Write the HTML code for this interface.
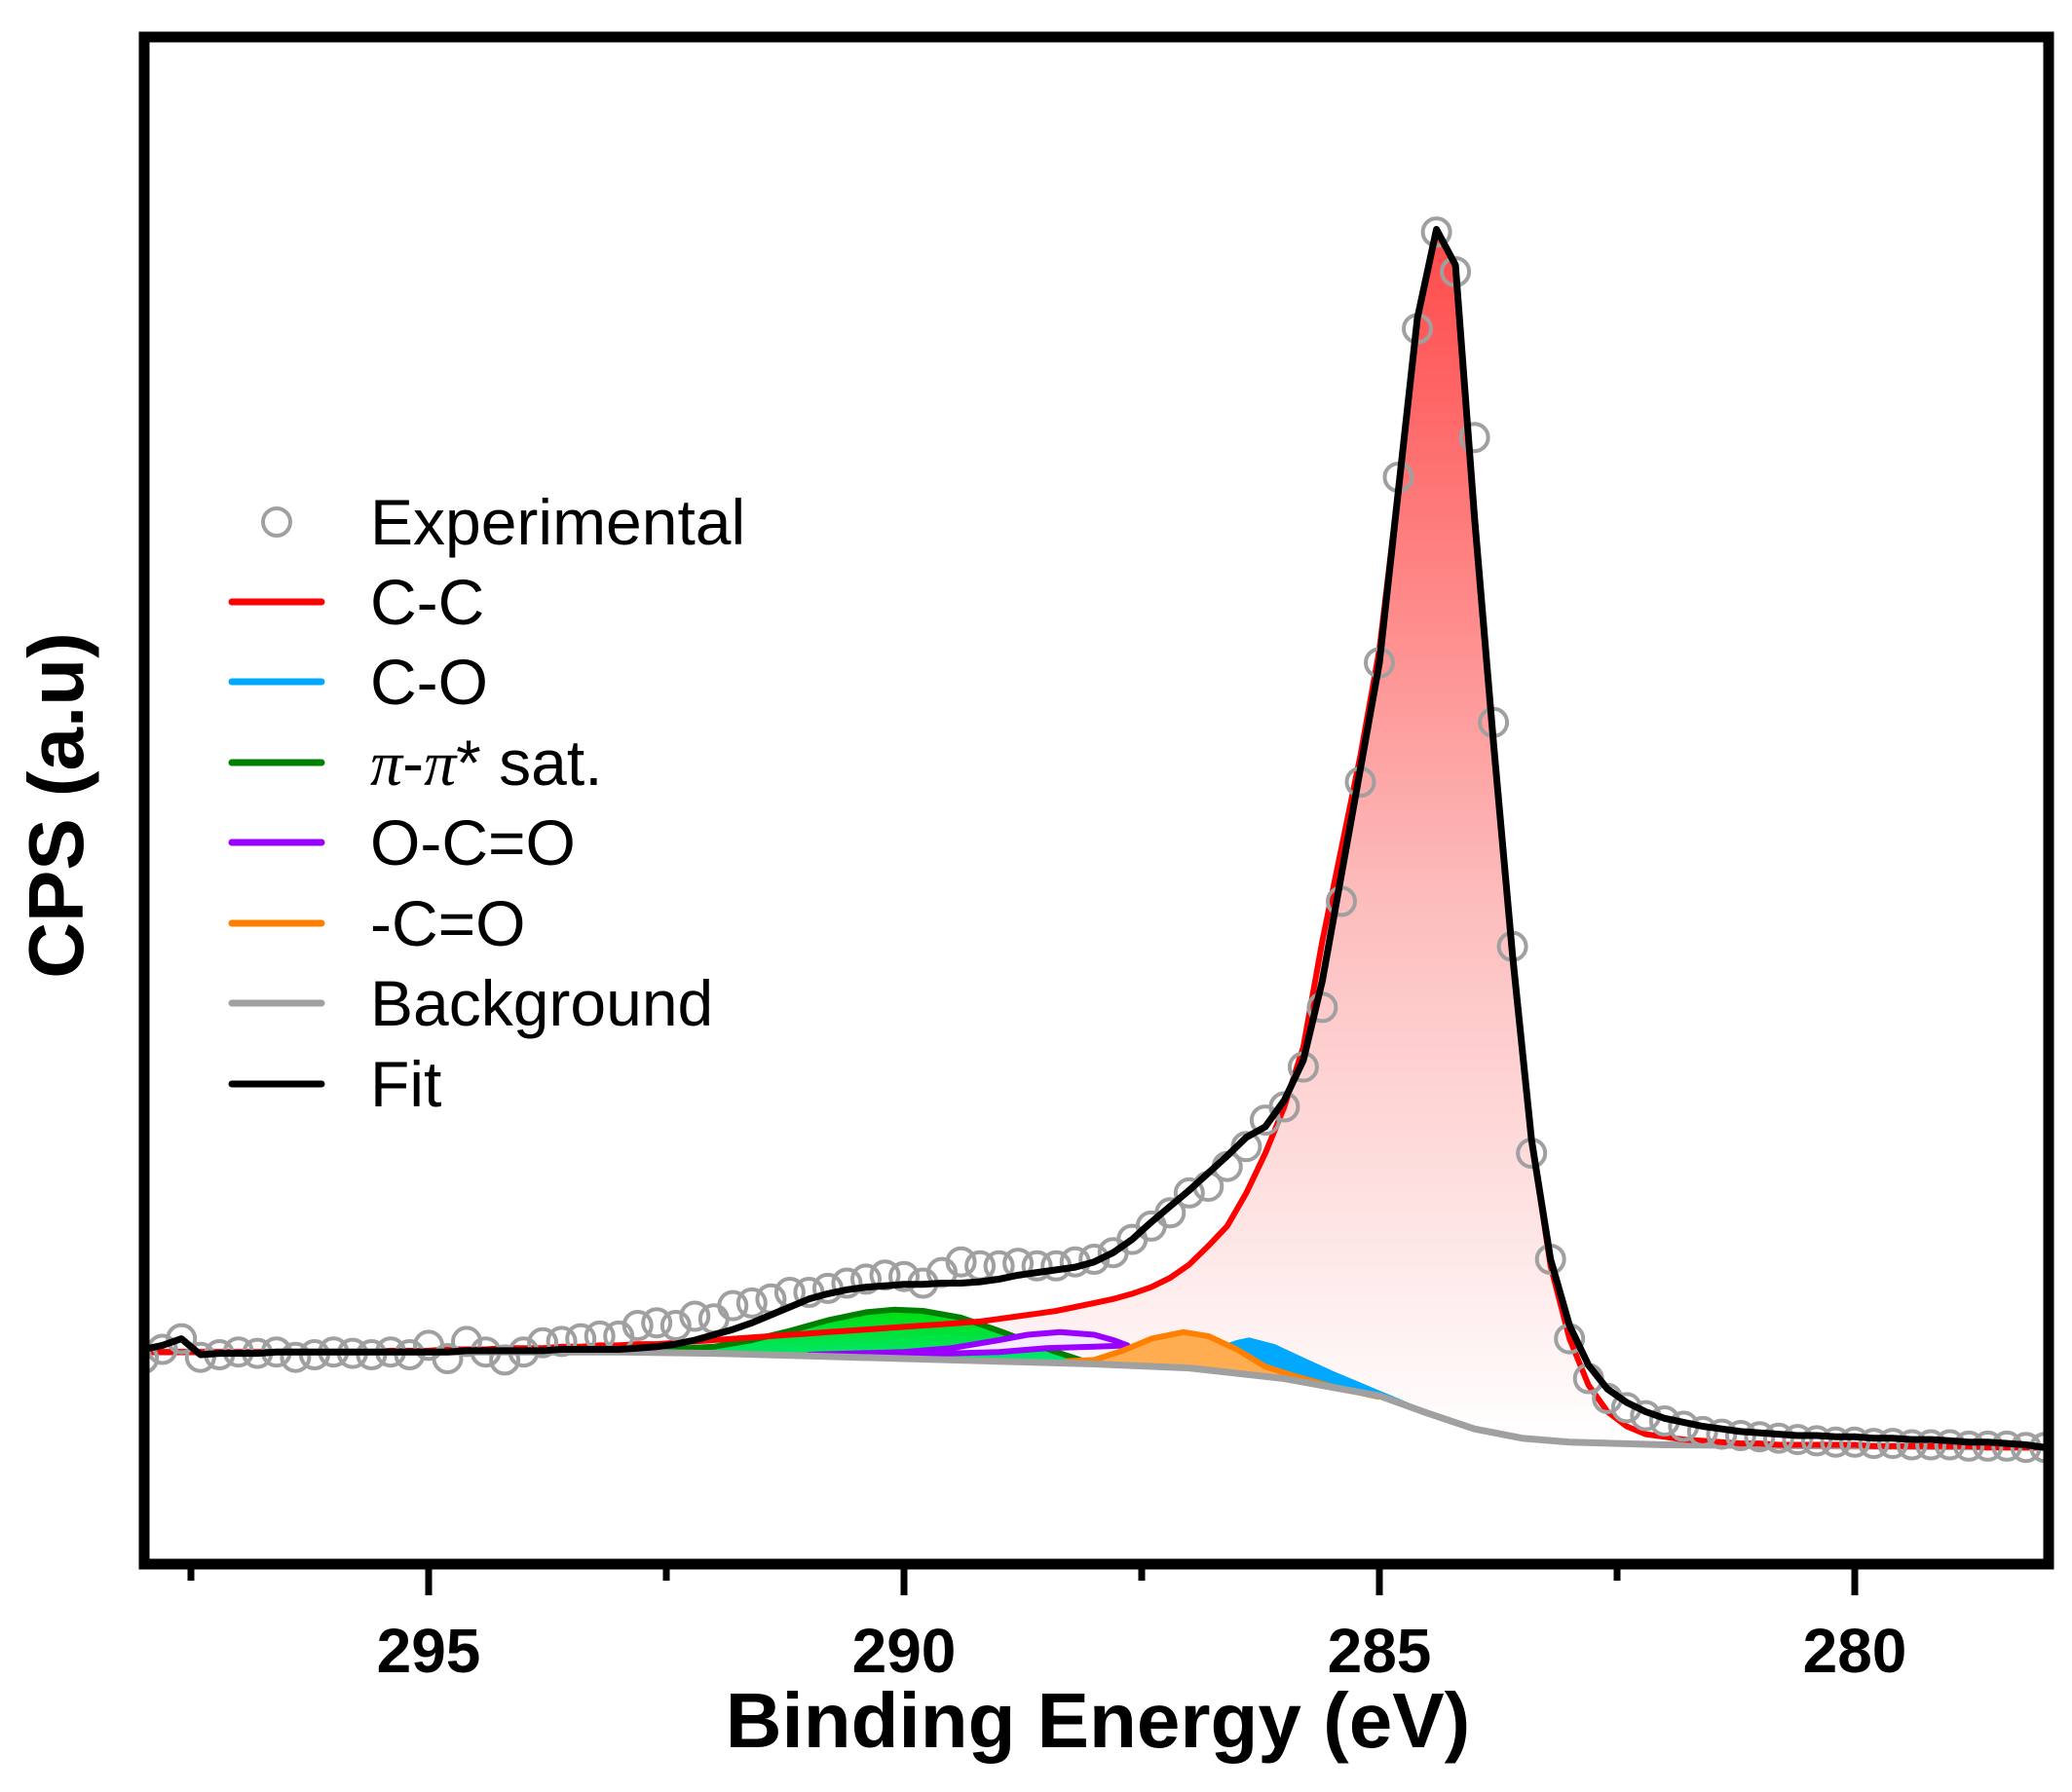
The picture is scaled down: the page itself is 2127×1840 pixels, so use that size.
<!DOCTYPE html>
<html><head><meta charset="utf-8"><style>
html,body{margin:0;padding:0;background:#fff}
svg{display:block}
text{font-family:"Liberation Sans",Arial,sans-serif}
</style></head><body>
<svg id="chart" width="2127" height="1840" viewBox="0 0 2127 1840" xmlns="http://www.w3.org/2000/svg">
<defs>
<linearGradient id="redGrad" gradientUnits="userSpaceOnUse" x1="0" y1="240" x2="0" y2="1480">
<stop offset="0" stop-color="#ff4a4a"/><stop offset="0.55" stop-color="#fdbcbc"/><stop offset="1" stop-color="#ffffff"/>
</linearGradient>
<linearGradient id="greenGrad" gradientUnits="userSpaceOnUse" x1="0" y1="1340" x2="0" y2="1400">
<stop offset="0" stop-color="#00dd00"/><stop offset="1" stop-color="#00e87a"/>
</linearGradient>
</defs>
<g id="plot"></g>
<rect x="148" y="38" width="1955" height="1568" fill="none" stroke="#000" stroke-width="11"/>
<g id="xticks"></g>
<text x="1127" y="1794" font-size="80" font-weight="bold" text-anchor="middle">Binding Energy (eV)</text>
<text transform="translate(85,827) rotate(-90)" font-size="80" font-weight="bold" text-anchor="middle">CPS (a.u)</text>
<g id="legend">
<circle cx="284" cy="536" r="14" fill="none" stroke="#a0a0a0" stroke-width="4"/>
<text x="380" y="559" font-size="66">Experimental</text>
<line x1="238" y1="618" x2="330" y2="618" stroke="#ff0000" stroke-width="7" stroke-linecap="round"/>
<text x="380" y="641" font-size="66">C-C</text>
<line x1="238" y1="700" x2="330" y2="700" stroke="#00a8ff" stroke-width="7" stroke-linecap="round"/>
<text x="380" y="723" font-size="66">C-O</text>
<line x1="238" y1="783" x2="330" y2="783" stroke="#008000" stroke-width="7" stroke-linecap="round"/>
<text x="380" y="806" font-size="66"><tspan font-family="Liberation Serif,serif" font-style="italic">π</tspan>-<tspan font-family="Liberation Serif,serif" font-style="italic">π</tspan>* sat.</text>
<line x1="238" y1="865" x2="330" y2="865" stroke="#9900ff" stroke-width="7" stroke-linecap="round"/>
<text x="380" y="888" font-size="66">O-C=O</text>
<line x1="238" y1="948" x2="330" y2="948" stroke="#ff8000" stroke-width="7" stroke-linecap="round"/>
<text x="380" y="971" font-size="66">-C=O</text>
<line x1="238" y1="1030" x2="330" y2="1030" stroke="#a0a0a0" stroke-width="7" stroke-linecap="round"/>
<text x="380" y="1053" font-size="66">Background</text>
<line x1="238" y1="1113" x2="330" y2="1113" stroke="#000" stroke-width="7" stroke-linecap="round"/>
<text x="380" y="1136" font-size="66">Fit</text>
</g>
</svg>
<script>
// energy grid (eV) for experimental, fit and C-C
const energies = [];
for (let i = 0; i <= 100; i++) energies.push(+(298 - i * 0.2).toFixed(1));
const expValues = [155,162,170,156,158,160,159,160,156,158,160,159,158,160,158,165,155,168,160,154,160,167,168,170,172,172,180,182,180,187,185,195,197,200,205,205,208,212,215,218,217,212,220,228,225,225,227,225,225,228,230,235,245,255,265,280,285,300,315,335,345,375,420,500,590,680,820,932,1005,975,850,635,466,310,230,170,140,125,118,112,108,104,100,98,97,96,95,94,93,92,92,91,91,90,90,90,89,89,89,88,88];
const fitValues = [162,165,170,158,159,159,159,160,160,160,160,160,160,160,160,160,160,161,161,161,161,161,162,162,162,162,163,164,166,169,173,177,182,188,194,200,204,207,209,210,211,211,212,212,213,215,218,220,222,224,228,235,245,258,270,282,295,308,322,330,350,380,440,520,600,680,810,940,1007,980,790,620,460,320,230,180,150,132,122,115,110,107,104,102,100,99,98,97,97,96,96,95,95,94,94,93,92,92,91,90,88];
const ccValues = [160,160,160,160,160,160,160,160,160,160,160,160,160,161,161,161,162,162,162,163,163,163,164,164,165,165,166,166,167,168,169,170,171,172,173,174,175,176,177,178,179,180,181,182,183,185,187,189,191,194,197,200,204,209,216,226,240,255,280,310,345,390,470,540,610,690,810,940,1007,980,790,620,460,320,225,170,135,115,104,98,96,94,93,92,91,91,90,90,90,90,90,89,89,89,89,89,89,88,88,88,88];
const bgE = [298,296,294,293,292,291,290,289,288,287,286,285,284.5,284,283.5,283,282,280,278];
const bgValues = [160,160,160,160,159,157,155,153,151,148,140,127,114,102,95,92,90,89,88];
const greenE = [293.0,292.5,292.0,291.6,291.2,290.8,290.4,290.1,289.8,289.4,289.0,288.7,288.4,288.1,287.8];
const greenValues = [161,162,164,169,176,184,190,192,191,186,176,168,160,153,150];
const purpleTopE = [291.0,290.0,289.5,289.0,288.7,288.36,288.0,287.8,287.65];
const purpleTopValues = [158,160,163,169,173,175,173,169,165];
const purpleBotE = [287.65,288.0,288.5,289.0,290.0,291.0];
const purpleBotValues = [165,164,163,160,158,158];
const orangeE = [288.3,288.0,287.7,287.4,287.06,286.8,286.5,286.2,285.9,285.5,285.0];
const orangeValues = [153,154,161,170,175,172,162,149,142,134,126];
const blueE = [287.2,286.8,286.5,286.37,286.1,285.8,285.5,285.1,284.7,284.3,283.9];
const blueValues = [150,162,169,171,166,156,146,134,122,108,100];
const majorTicks = [295,290,285,280];
const minorTicks = [297.5,292.5,287.5,282.5];
const tickLabels = ["295","290","285","280"];

const X0 = 440, PX_PER_EV = 97.6;
function xs(e){ return X0 + (295 - e) * PX_PER_EV; }
function ys(v){ return 1606 - v * 1.361; }
function bgAt(e){
  for (let i = 0; i < bgE.length - 1; i++) {
    if (e <= bgE[i] && e >= bgE[i+1]) { const t = (bgE[i]-e)/(bgE[i]-bgE[i+1]); return bgValues[i] + t*(bgValues[i+1]-bgValues[i]); }
  }
  return e > bgE[0] ? bgValues[0] : bgValues[bgValues.length-1];
}
const NS = "http://www.w3.org/2000/svg";
const plot = document.getElementById("plot");
function pts(E, V){ return E.map((e,i)=>xs(e).toFixed(1)+","+ys(V[i]).toFixed(1)); }
function areaPath(E, V){
  const top = pts(E,V);
  const bot = E.slice().reverse().map(e=>xs(e).toFixed(1)+","+ys(bgAt(e)).toFixed(1));
  return "M"+top.join("L")+"L"+bot.join("L")+"Z";
}
function mk(tag, attrs){ const el = document.createElementNS(NS, tag); for (const k in attrs) el.setAttribute(k, attrs[k]); return el; }

let el = mk("path", {d: areaPath(energies, ccValues), fill: "url(#redGrad)"});


plot.appendChild(el);
el = mk("path", {d: areaPath(greenE, greenValues), fill: "url(#greenGrad)"});


plot.appendChild(el);
el = mk("polyline", {points: pts(greenE, greenValues).join(" "), fill: "none", stroke: "#008000", "stroke-width": 6, "stroke-linejoin": "round"});


plot.appendChild(el);
el = mk("path", {d: "M"+pts(purpleTopE, purpleTopValues).join("L")+"L"+pts(purpleBotE, purpleBotValues).join("L")+"Z", fill: "#f4eaff", stroke: "#9900ff", "stroke-width": 6, "stroke-linejoin": "round"});


plot.appendChild(el);
el = mk("path", {d: areaPath(blueE, blueValues), fill: "#00a8ff"});


plot.appendChild(el);
el = mk("path", {d: areaPath(orangeE, orangeValues), fill: "#ffad50", stroke: "none"});


plot.appendChild(el);
el = mk("polyline", {points: pts(orangeE, orangeValues).join(" "), fill: "none", stroke: "#ff8000", "stroke-width": 6, "stroke-linejoin": "round"});


plot.appendChild(el);
el = mk("polyline", {points: pts(bgE, bgValues).join(" "), fill: "none", stroke: "#a0a0a0", "stroke-width": 7, "stroke-linejoin": "round"});


plot.appendChild(el);
el = mk("polyline", {points: pts(energies, ccValues).join(" "), fill: "none", stroke: "#ff0000", "stroke-width": 6, "stroke-linejoin": "round"});


plot.appendChild(el);
energies.forEach((e,i)=>{
  const c = mk("circle", {cx: xs(e).toFixed(1), cy: ys(expValues[i]).toFixed(1), r: 14, fill: "none", stroke: "#a0a0a0", "stroke-width": 4});
  
  
  plot.appendChild(c);
});
el = mk("polyline", {points: pts(energies, fitValues).join(" "), fill: "none", stroke: "#000", "stroke-width": 7, "stroke-linejoin": "round"});


plot.appendChild(el);

const cp = mk("clipPath", {id: "clipPlot"});
cp.appendChild(mk("rect", {x: 153, y: 43, width: 1945, height: 1558}));
document.querySelector("defs").appendChild(cp);
plot.setAttribute("clip-path", "url(#clipPlot)");

const xt = document.getElementById("xticks");
majorTicks.forEach((t,i)=>{
  const l = mk("line", {x1: xs(t), x2: xs(t), y1: 1611, y2: 1638, stroke: "#000", "stroke-width": 7});
  
  
  xt.appendChild(l);
  const tx = mk("text", {x: xs(t), y: 1717, "font-size": 64, "font-weight": "bold", "text-anchor": "middle"});
  tx.textContent = tickLabels[i];
  
  
  xt.appendChild(tx);
});
minorTicks.forEach(t=>{
  const l = mk("line", {x1: xs(t), x2: xs(t), y1: 1611, y2: 1623, stroke: "#000", "stroke-width": 7});
  
  
  xt.appendChild(l);
});
</script>
</body></html>
